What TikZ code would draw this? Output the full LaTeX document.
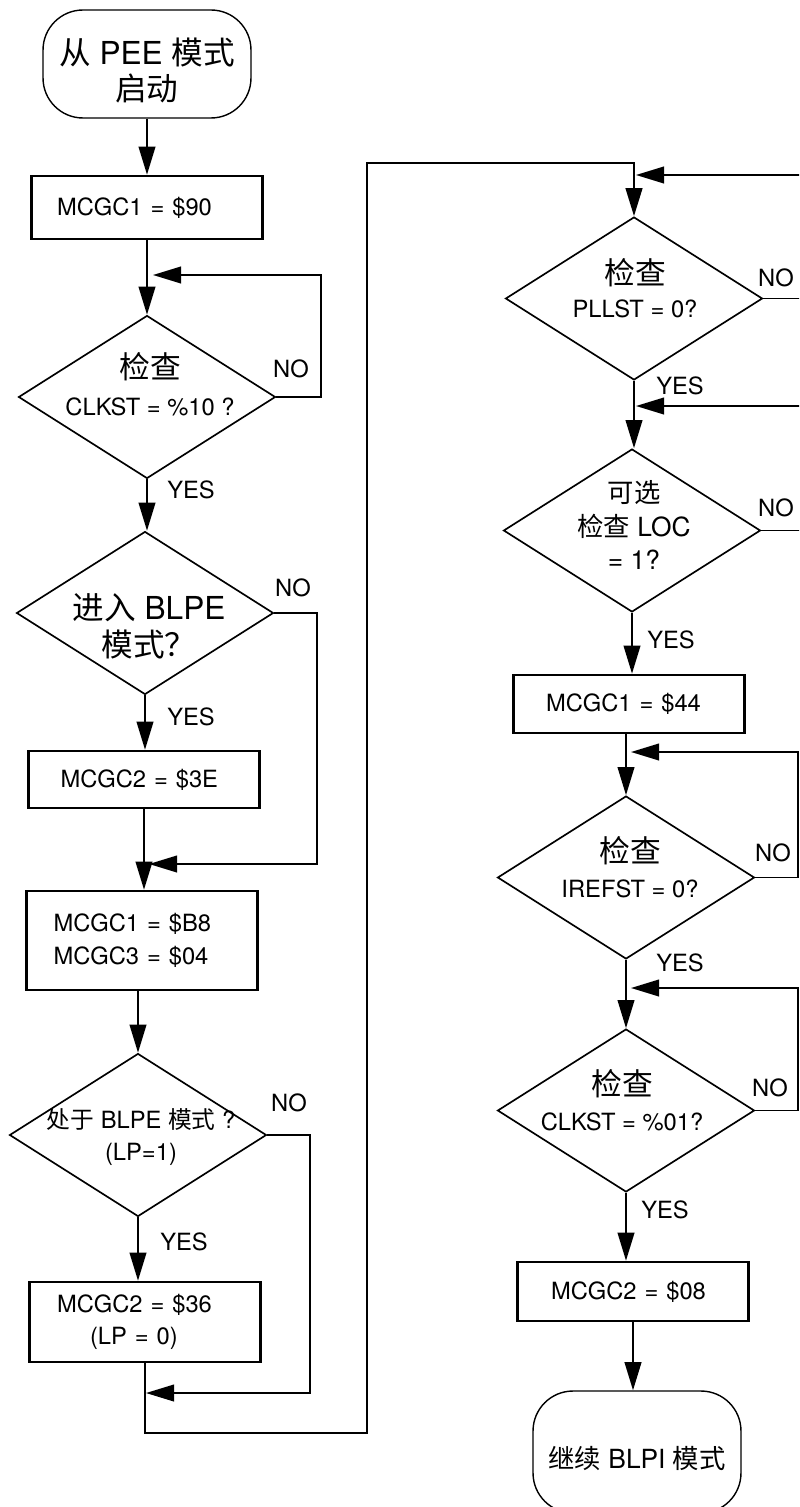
\documentclass[tikz,border=0pt]{standalone}
\usepackage{fontspec}
\setmainfont{TeX Gyre Heros}
\newfontfamily\zhfont{Noto Sans CJK SC}
\newcommand{\zh}[1]{{\zhfont #1}}
\usetikzlibrary{shapes.geometric,arrows.meta}

\begin{document}
\begin{tikzpicture}[x=0.02cm,y=-0.02cm,
  every node/.style={font=\fontsize{13.5}{19}\selectfont},
  termbox/.style={draw,line width=0.8pt,rounded corners=0.8cm,minimum width=4.16cm,align=center},
  procbox/.style={draw,line width=1.5pt,minimum width=4.62cm,align=left,inner sep=0pt},
  decide/.style={draw,diamond,line width=0.95pt,inner sep=0pt,minimum width=5.14cm,minimum height=3.26cm},
  dtext/.style={align=center,inner sep=0pt},
  flow/.style={line width=1.1pt,-{Triangle[length=16pt,width=9.5pt]}}]
  \useasboundingbox (0,0) rectangle (799,1507);
  \clip (0,0) rectangle (799,1507);
  % start in PEE mode
  \node[termbox,minimum height=2.16cm,font=\fontsize{18}{20.5}\selectfont] (start) at (147,64) {\rule{0pt}{23pt}\zh{从} PEE \zh{模式}\\\zh{启动}};
  \node[procbox,minimum height=1.26cm,text width=3.6cm] (box1) at (147,207.5) {MCGC1 = \$90};
  % check CLKST = %10
  \node[decide] (chk1) at (147,397) {};
  \node[dtext,font=\fontsize{13.5}{21}\selectfont] (chk1t) at (150,384) {{\fontsize{17.5}{21}\selectfont\zh{检查}}\\CLKST = \%10 ?};
  \node (no1) at (291,369) {NO};
  \node (yes1) at (191,490) {YES};
  % go to BLPE?
  \node[decide] (mode) at (145,613) {};
  \node[dtext,font=\fontsize{18}{21}\selectfont] (modet) at (149,626) {\zh{进入} BLPE\\\zh{模式？}};
  \node (no2) at (293,588) {NO};
  \node (yes2) at (191,717) {YES};
  \node[procbox,minimum height=1.14cm,text width=3.34cm] (box2) at (144,779.5) {MCGC2 = \$3E};
  \node[procbox,minimum height=1.98cm,text width=3.54cm,font=\fontsize{13.5}{18.8}\selectfont] (box3) at (142,940.5) {MCGC1 = \$B8\\MCGC3 = \$04};
  % in BLPE mode?
  \node[decide] (lp) at (138,1135) {};
  \node[dtext,font=\fontsize{13.5}{18}\selectfont] (lpt) at (141,1137) {\zh{处于} BLPE \zh{模式} ?\\(LP=1)};
  \node (no3) at (289,1103) {NO};
  \node (yes3) at (184,1242) {YES};
  \node[procbox,minimum height=1.6cm,text width=3.52cm,font=\fontsize{13.5}{18.2}\selectfont] (box4) at (145,1322) {MCGC2 = \$36\\\hspace*{0.66cm}(LP = 0)};
  % check PLLST
  \node[decide] (pll) at (634,298.5) {};
  \node[dtext,font=\fontsize{13.5}{18.8}\selectfont] (pllt) at (635,288) {{\fontsize{17.5}{19}\selectfont\zh{检查}}\\PLLST = 0?};
  \node (no4) at (776,278) {NO};
  \node (yes4) at (680,386) {YES};
  % optional LOC check
  \node[decide] (loc) at (632,530.5) {};
  \node[dtext,font=\fontsize{15}{19}\selectfont] (loct) at (634,525) {\zh{可选}\\\zh{检查} LOC\\= 1?};
  \node (no5) at (776,508) {NO};
  \node (yes5) at (671,640) {YES};
  \node[procbox,minimum height=1.16cm,text width=3.32cm] (box5) at (629,704) {MCGC1 = \$44};
  % check IREFST
  \node[decide] (iref) at (626,877.5) {};
  \node[dtext,font=\fontsize{13.5}{20}\selectfont] (ireft) at (630,867) {{\fontsize{17.5}{20}\selectfont\zh{检查}}\\IREFST = 0?};
  \node (no6) at (773,853) {NO};
  \node (yes6) at (680,963) {YES};
  % check CLKST = %01
  \node[decide] (clk) at (626,1110.5) {};
  \node[dtext,font=\fontsize{13.5}{20}\selectfont] (clkt) at (622,1100) {{\fontsize{17.5}{20}\selectfont\zh{检查}}\\CLKST = \%01?};
  \node (no7) at (770,1088) {NO};
  \node (yes7) at (665,1210) {YES};
  \node[procbox,minimum height=1.18cm,text width=3.28cm] (box6) at (633,1291.5) {MCGC2 = \$08};
  \node[termbox,minimum height=2.44cm,font=\fontsize{15}{18}\selectfont] (stop) at (637,1452) {\rule{0pt}{20pt}\zh{继续} BLPI \zh{模式}};
  % loop-back points
  \coordinate (back1) at (153,275);
  \coordinate (back2) at (149,864);
  \coordinate (back3) at (146,1393);
  \coordinate (back4) at (636,175);
  \coordinate (back5) at (636,406);
  \coordinate (back6) at (631,752);
  \coordinate (back7) at (631,988);
  \coordinate (turn1) at (367,1433);
  \coordinate (turn2) at (367,163);
  % left column flow
  \draw[flow] (start) -- (start |- box1.north);
  \draw[flow] (box1) -- (box1 |- chk1.north);
  \draw[flow] (chk1.east) -- ++(45,0) |- (back1);
  \draw[flow] (chk1) -- (chk1 |- mode.north);
  \draw[flow] (mode.east) -- ++(43,0) |- (back2);
  \draw[flow] (mode) -- (mode |- box2.north);
  \draw[flow] (box2) -- (box2 |- box3.north);
  \draw[flow] (lp |- box3.south) -- (lp);
  \draw[flow] (lp.east) -- ++(43,0) |- (back3);
  \draw[flow] (lp) -- (lp |- box4.north);
  % over to the right column
  \draw[flow,line width=1.3pt] (box4) -- (box4 |- turn1) -- (turn1) -- (turn2) -| (pll);
  % right column flow
  \draw[flow] (pll.east) -- ++(50,0) |- (back4);
  \draw[flow] (pll) -- (pll |- loc.north);
  \draw[flow] (loc.east) -- ++(50,0) |- (back5);
  \draw[flow] (loc) -- (loc |- box5.north);
  \draw[flow] (iref |- box5.south) -- (iref);
  \draw[flow] (iref.east) -- ++(43,0) |- (back6);
  \draw[flow] (iref) -- (iref |- clk.north);
  \draw[flow] (clk.east) -- ++(43,0) |- (back7);
  \draw[flow] (clk) -- (clk |- box6.north);
  \draw[flow] (box6) -- (box6 |- stop.north);
\end{tikzpicture}
\end{document}
